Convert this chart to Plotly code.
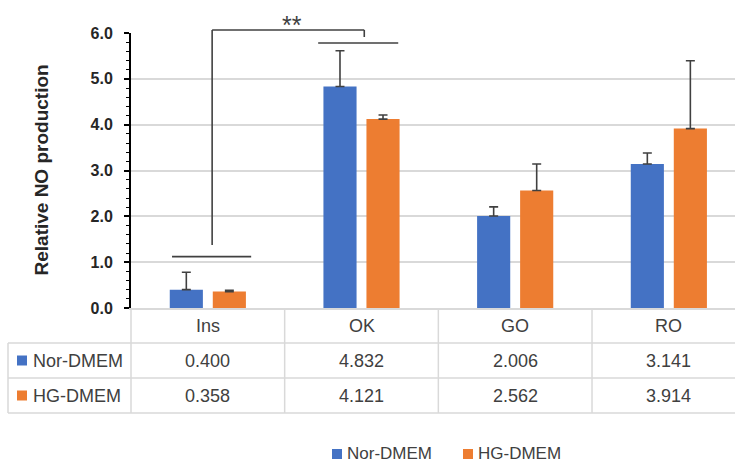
import plotly.graph_objects as go

# ---- data ----
categories = ["Ins", "OK", "GO", "RO"]
series_names = ["Nor-DMEM", "HG-DMEM"]
nor_values = [0.400, 4.832, 2.006, 3.141]
hg_values = [0.358, 4.121, 2.562, 3.914]
nor_err = [0.38, 0.78, 0.20, 0.24]
hg_err = [0.03, 0.09, 0.58, 1.48]
y_ticks = [0, 1, 2, 3, 4, 5, 6]
sig_label = "**"

# ---- style / layout ----
W, H = 735, 465
ML, MR, MT, MB = 131, 0, 33, 157
PW, PH = W - ML - MR, H - MT - MB
CAT_W = 153.67
YMAX = 6.0
BLUE, ORANGE = "#4472C4", "#ED7D31"
DARK = "#404040"
GRID = "#D9D9D9"
TXT_FONT = "Liberation Sans, Arial"
colors = [BLUE, ORANGE]


def px(x):  # pixel x -> paper
    return (x - ML) / PW


def py(y):  # pixel y -> paper
    return (H - MB - y) / PH


def vy(v):  # data y -> paper
    return v / YMAX


fig = go.Figure()
for name, vals, errs, col in zip(series_names, [nor_values, hg_values], [nor_err, hg_err], colors):
    fig.add_trace(go.Bar(
        x=categories, y=vals, name=name, marker=dict(color=col, line=dict(width=0)),
        error_y=dict(type="data", array=errs, arrayminus=[0] * len(errs), symmetric=False,
                     color=DARK, thickness=1.6, width=4.5),
        showlegend=False,
    ))

shapes = []
annotations = []

# significance bracket
line = dict(color=DARK, width=1.6)
shapes += [
    dict(type="line", xref="x", yref="paper", x0=-0.233, x1=0.282, y0=vy(1.12), y1=vy(1.12), line=line),
    dict(type="line", xref="x", yref="paper", x0=0.028, x1=0.028, y0=vy(1.375), y1=py(30), line=line),
    dict(type="line", xref="x", yref="paper", x0=0.028, x1=1.018, y0=py(30), y1=py(30), line=line),
    dict(type="line", xref="x", yref="paper", x0=1.018, x1=1.018, y0=py(30), y1=py(37), line=line),
    dict(type="line", xref="x", yref="paper", x0=0.718, x1=1.239, y0=py(43), y1=py(43), line=line),
]
annotations.append(dict(text=sig_label, xref="x", yref="paper", x=0.549, y=py(25), showarrow=False,
                        font=dict(family="Liberation Sans", size=25, color=DARK), xanchor="center", yanchor="middle"))

# y axis title
annotations.append(dict(text="<b>Relative NO production</b>", xref="paper", yref="paper", x=px(41), y=0.5,
                        textangle=-90, showarrow=False, xanchor="center", yanchor="middle",
                        font=dict(family="Liberation Sans", size=19, color="#262626")))

# data table
gl = dict(color=GRID, width=1.5)
row_lines = [343, 378, 413]
for ry in row_lines:
    shapes.append(dict(type="line", xref="paper", yref="paper", x0=px(8), x1=1, y0=py(ry), y1=py(ry), line=gl))
shapes.append(dict(type="line", xref="paper", yref="paper", x0=px(8), x1=px(8), y0=py(343), y1=py(413), line=gl))
shapes.append(dict(type="line", xref="paper", yref="paper", x0=0, x1=0, y0=py(308), y1=py(413), line=gl))
for i in range(len(categories) - 1):
    shapes.append(dict(type="line", xref="x", yref="paper", x0=i + 0.5, x1=i + 0.5,
                       y0=py(308), y1=py(413), line=gl))

tfont = dict(family=TXT_FONT, size=18, color=DARK)
row_centers = [325.5, 360.5, 395.5]
for i, c in enumerate(categories):
    annotations.append(dict(text=c, xref="x", yref="paper", x=i, y=py(row_centers[0]), showarrow=False,
                            font=tfont, xanchor="center", yanchor="middle"))
    for r, vals in enumerate([nor_values, hg_values]):
        annotations.append(dict(text=f"{vals[i]:.3f}", xref="x", yref="paper", x=i, y=py(row_centers[r + 1]),
                                showarrow=False, font=tfont, xanchor="center", yanchor="middle"))
for r, (name, col) in enumerate(zip(series_names, colors)):
    cy = row_centers[r + 1]
    shapes.append(dict(type="rect", xref="paper", yref="paper", x0=px(17), x1=px(27), y0=py(cy - 5), y1=py(cy + 5),
                       fillcolor=col, line=dict(width=0)))
    annotations.append(dict(text=name, xref="paper", yref="paper", x=px(31), y=py(cy), showarrow=False,
                            font=tfont, xanchor="left", yanchor="middle"))

# legend
leg_y = 454
leg_x = [332, 463]
lfont = dict(family=TXT_FONT, size=17, color=DARK)
for name, col, lx in zip(series_names, colors, leg_x):
    shapes.append(dict(type="rect", xref="paper", yref="paper", x0=px(lx), x1=px(lx + 10), y0=py(leg_y - 5),
                       y1=py(leg_y + 5), fillcolor=col, line=dict(width=0)))
    annotations.append(dict(text=name, xref="paper", yref="paper", x=px(lx + 13), y=py(leg_y), showarrow=False,
                            font=lfont, xanchor="left", yanchor="middle"))

fig.update_layout(
    width=W, height=H,
    margin=dict(l=ML, r=MR, t=MT, b=MB, pad=0),
    paper_bgcolor="white", plot_bgcolor="white",
    barmode="group", bargap=0.44, bargroupgap=0.23,
    showlegend=False,
    shapes=shapes, annotations=annotations,
    xaxis=dict(range=[-0.5, -0.5 + PW / CAT_W], showticklabels=False, ticks="", showgrid=False,
               showline=True, linecolor=GRID, linewidth=1.5, zeroline=False, fixedrange=True),
    yaxis=dict(range=[0, YMAX], tickvals=y_ticks, ticktext=[f"{v:.1f}" for v in y_ticks],
               tickfont=dict(family="Liberation Sans", size=16, color="#262626", weight="bold"),
               ticks="outside", ticklen=5, tickcolor="#000", tickwidth=1.5,
               ticklabelstandoff=8,
               minor=dict(dtick=0.2, ticks="outside", ticklen=3, tickcolor="#000", tickwidth=1, showgrid=False),
               showgrid=True, gridcolor=GRID, gridwidth=1.5,
               showline=True, linecolor="#000", linewidth=2, zeroline=False, fixedrange=True),
)

fig.write_html("out.html")
